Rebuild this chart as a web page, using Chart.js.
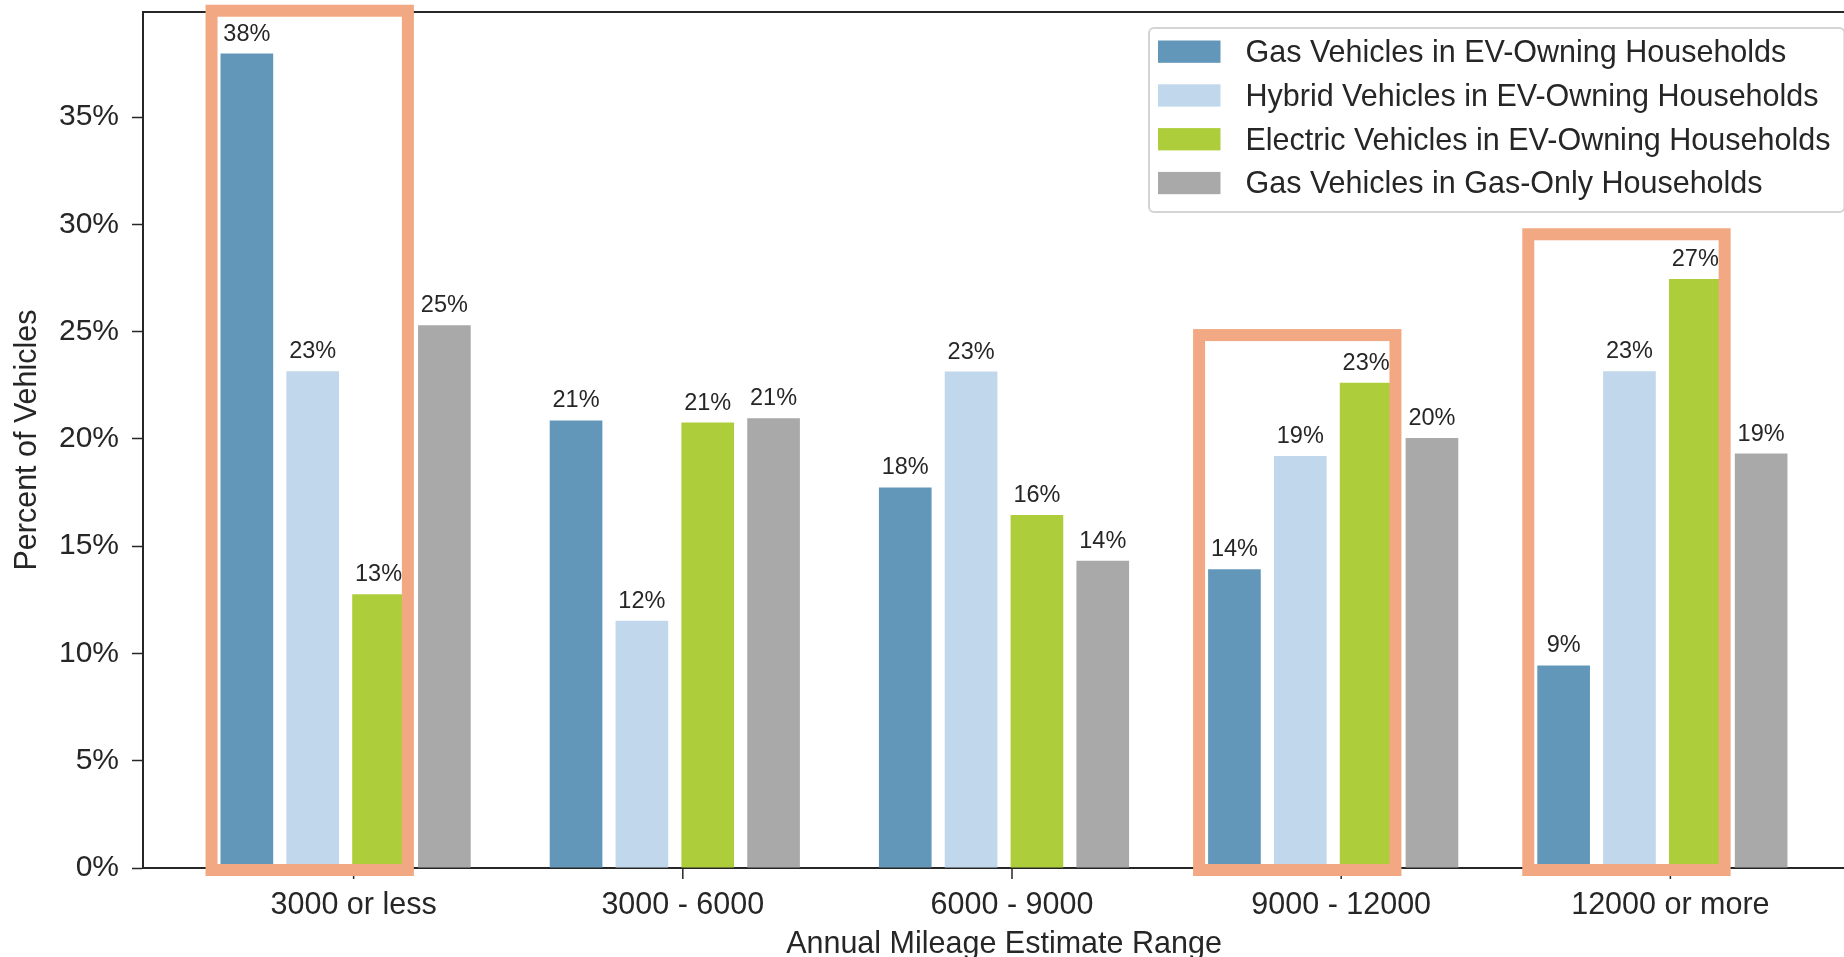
<!DOCTYPE html>
<html>
<head>
<meta charset="utf-8">
<script src="https://cdn.jsdelivr.net/npm/chart.js@4.4.0/dist/chart.umd.min.js"></script>
<style>
  html, body { margin: 0; padding: 0; background: #fff; overflow: hidden; }
  #wrap { width: 1870px; height: 957px; }
</style>
</head>
<body>
<div id="wrap"><canvas id="mileageChart" width="1870" height="957"></canvas></div>
<script>
const categories = ["3000 or less", "3000 - 6000", "6000 - 9000", "9000 - 12000", "12000 or more"];
const seriesNames = [
  "Gas Vehicles in EV-Owning Households",
  "Hybrid Vehicles in EV-Owning Households",
  "Electric Vehicles in EV-Owning Households",
  "Gas Vehicles in Gas-Only Households"
];
const gasInEvHomes      = [37.96, 20.86, 17.74, 13.92, 9.44];
const hybridInEvHomes   = [23.16, 11.53, 23.14, 19.2, 23.16];
const electricInEvHomes = [12.76, 20.76, 16.45, 22.62, 27.45];
const gasInGasHomes     = [25.3, 20.96, 14.32, 20.04, 19.32];
const yTicks = [0, 5, 10, 15, 20, 25, 30, 35];

// groups outlined in orange, and how high each outline reaches (in %)
const highlightGroups = [0, 3, 4];
const highlightTops = [39.96, 24.84, 29.54];

const seriesValues = [gasInEvHomes, hybridInEvHomes, electricInEvHomes, gasInGasHomes];
const seriesColors = ['#6297ba', '#c1d7eb', '#aecd3a', '#a9a9a9'];
const ink = '#262626';
const family = "'Liberation Sans', Arial, sans-serif";
const tickShift = 8; // ticks sit a little right of the bar groups in the original

const decorations = {
  id: 'decorations',
  afterDatasetsDraw(chart) {
    const { ctx, chartArea: area, scales: { x, y } } = chart;
    ctx.save();

    // top and right spines
    ctx.strokeStyle = ink;
    ctx.lineWidth = 2;
    ctx.beginPath();
    ctx.moveTo(area.left, area.top);
    ctx.lineTo(area.right, area.top);
    ctx.lineTo(area.right, area.bottom);
    ctx.stroke();

    // x tick marks
    ctx.lineWidth = 1.5;
    x.ticks.forEach((t, i) => {
      const px = x.getPixelForTick(i) + tickShift;
      ctx.beginPath();
      ctx.moveTo(px, area.bottom);
      ctx.lineTo(px, area.bottom + 11);
      ctx.stroke();
    });

    // value labels
    ctx.fillStyle = ink;
    ctx.font = '23.5px ' + family;
    ctx.textAlign = 'center';
    ctx.textBaseline = 'alphabetic';
    chart.data.datasets.forEach((ds, d) => {
      chart.getDatasetMeta(d).data.forEach((bar, i) => {
        ctx.fillText(Math.round(ds.data[i].y) + '%', bar.x, bar.y - 13);
      });
    });

    // orange highlight boxes
    ctx.strokeStyle = '#f2a882';
    ctx.lineWidth = 12;
    highlightGroups.forEach((g, k) => {
      const first = chart.getDatasetMeta(0).data[g];
      const last = chart.getDatasetMeta(2).data[g];
      const left = first.x - first.width / 2 - 9;
      const right = last.x + last.width / 2 + 3;
      const top = y.getPixelForValue(highlightTops[k]);
      const bottom = y.getPixelForValue(0) + 2;
      ctx.strokeRect(left, top, right - left, bottom - top);
    });
    ctx.restore();
  },
  afterDraw(chart) {
    const { ctx, chartArea: area } = chart;
    const ds = chart.data.datasets;
    ctx.save();
    ctx.font = '30.5px ' + family;
    const textW = Math.max(...ds.map(d => ctx.measureText(d.label).width));
    const left = area.right - 716;
    const top = area.top + 16;
    const w = 96.5 + textW + 14;
    const h = 184;
    ctx.beginPath();
    ctx.roundRect(left, top, w, h, 5);
    ctx.fillStyle = 'rgba(255,255,255,0.9)';
    ctx.fill();
    ctx.strokeStyle = '#d4d4d4';
    ctx.lineWidth = 2;
    ctx.stroke();
    ds.forEach((d, k) => {
      const cy = top + 23.5 + k * 43.8;
      ctx.fillStyle = d.backgroundColor;
      ctx.fillRect(left + 9, cy - 11, 62.5, 22.3);
      ctx.fillStyle = ink;
      ctx.textAlign = 'left';
      ctx.textBaseline = 'middle';
      ctx.fillText(d.label, left + 96.5, cy + 2);
    });
    ctx.restore();
  }
};

new Chart(document.getElementById('mileageChart'), {
  type: 'bar',
  data: {
    datasets: seriesNames.map((name, k) => ({
      label: name,
      data: seriesValues[k].map((v, i) => ({ x: i, y: v })),
      backgroundColor: seriesColors[k],
      borderWidth: 0,
      categoryPercentage: 0.8,
      barPercentage: 0.8
    }))
  },
  options: {
    responsive: false,
    animation: false,
    layout: { padding: { top: 12, right: 5, left: 0, bottom: 0 } },
    plugins: { legend: { display: false }, tooltip: { enabled: false } },
    scales: {
      x: {
        type: 'linear',
        min: -0.6155,
        max: 4.6155,
        offset: false,
        afterBuildTicks: s => { s.ticks = categories.map((c, i) => ({ value: i })); },
        afterFit: s => { s.height = 89; s.paddingLeft = 0; s.paddingRight = 0; },
        grid: { display: false, drawTicks: false },
        border: { display: true, color: ink, width: 2 },
        ticks: {
          callback: v => categories[v],
          padding: 19,
          labelOffset: tickShift,
          color: ink,
          autoSkip: false,
          maxRotation: 0,
          font: { size: 30.5, family }
        },
        title: {
          display: true,
          text: 'Annual Mileage Estimate Range',
          color: ink,
          font: { size: 30.5, family, lineHeight: 0.8 },
          padding: 0
        }
      },
      y: {
        min: 0,
        max: 39.9,
        afterBuildTicks: s => { s.ticks = yTicks.map(v => ({ value: v })); },
        afterFit: s => { s.width = 143; s.paddingTop = 0; s.paddingBottom = 0; },
        grid: { drawOnChartArea: false, tickLength: 11, tickColor: ink, tickWidth: 1.5 },
        border: { color: ink, width: 2 },
        ticks: {
          callback: v => v + '%',
          padding: 13,
          color: ink,
          font: { size: 30, family }
        },
        title: {
          display: true,
          text: 'Percent of Vehicles',
          color: ink,
          font: { size: 30.5, family, lineHeight: 1.2 },
          padding: { top: 9, bottom: 0 }
        }
      }
    }
  },
  plugins: [decorations]
});
</script>
</body>
</html>
